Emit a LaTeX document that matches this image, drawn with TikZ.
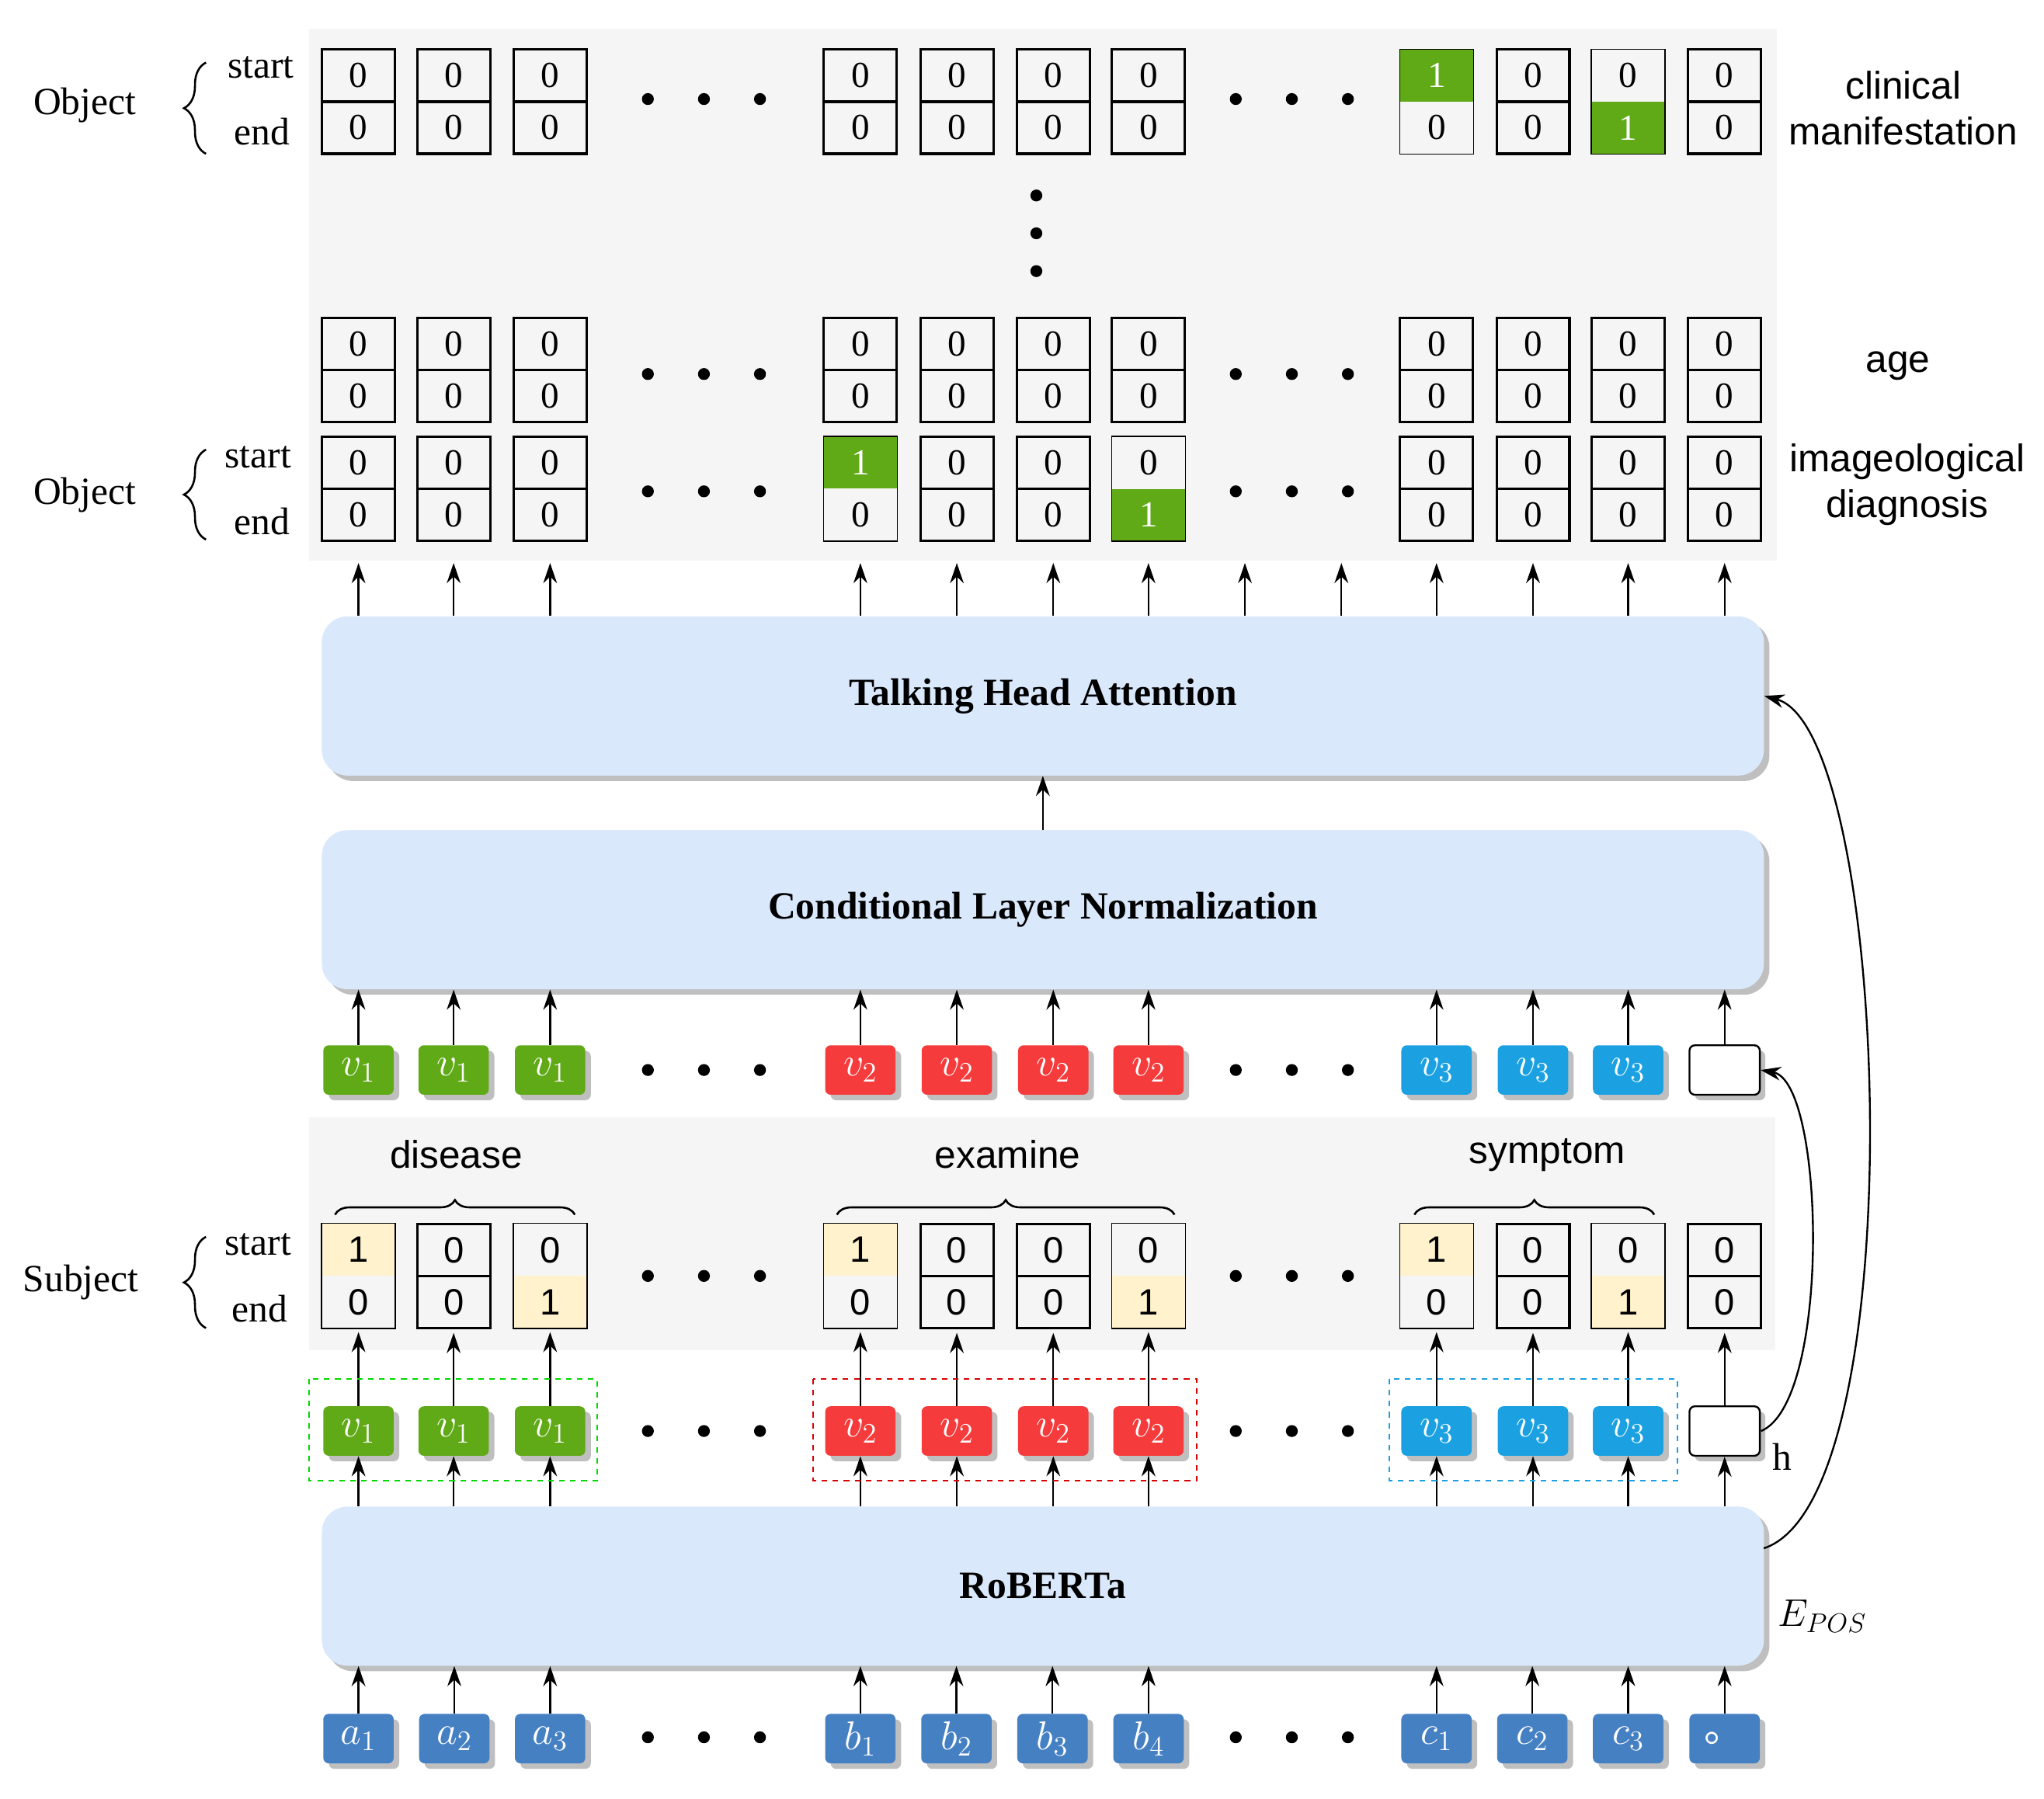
\RequirePackage{fix-cm}
\documentclass[tikz,border=0pt]{standalone}
\usepackage{fontspec}
\setmainfont{Liberation Serif}
\newfontfamily\sansf{Liberation Sans}
\newfontfamily\cjk{Noto Sans CJK SC}
\usetikzlibrary{arrows.meta,shadows,decorations.pathreplacing}

\definecolor{bgray}{HTML}{F5F5F5}
\definecolor{boxblue}{HTML}{DAE8FC}
\definecolor{hiyel}{HTML}{FFF2CC}
\definecolor{tgreen}{HTML}{60A917}
\definecolor{tred}{HTML}{F53B3B}
\definecolor{tblue}{HTML}{1BA1E2}
\definecolor{tin}{HTML}{4580C2}

\tikzset{
  arr/.style={-{Stealth[length=11pt,width=7.5pt]}, line width=1pt},
  half/.style={minimum width=39.8pt, minimum height=28.4pt, inner sep=0pt, font=\fontsize{20}{22}\selectfont},
  shalf/.style={half, font=\fontsize{20}{22}\sansf},
  zero/.style={draw, line width=1.3pt},
  token/.style={minimum width=38.4pt, minimum height=27pt, inner sep=0pt, rounded corners=3pt,
    text=white, font=\fontsize{22}{24}\selectfont,
    drop shadow={shadow xshift=3pt, shadow yshift=-3pt, fill=black!25, opacity=1}},
  layer/.style={fill=boxblue, minimum width=786.7pt, minimum height=86.8pt, rounded corners=14pt,
    font=\fontsize{21}{24}\selectfont\bfseries,
    drop shadow={shadow xshift=3pt, shadow yshift=-3pt, fill=black!25, opacity=1}},
  lbl/.style={font=\fontsize{21}{24}\selectfont, inner sep=0pt},
  slbl/.style={font=\fontsize{21}{25}\sansf, inner sep=0pt, align=center},
  dot/.style={fill=black, circle, inner sep=0pt, minimum size=6.5pt},
  brc/.style={decorate, decoration={brace, amplitude=#1}, line width=1.1pt},
}

% plain cell: name, x, y(center), top, bottom
\newcommand\zcell[6][half]{%
  \node[#1,zero] (#2s) at (#3,#4-20) {#5};
  \node[#1,zero] (#2e) at (#3,#4+20) {#6};}
% highlighted cell: name, x, y, top, bottom, top style, bottom style
\newcommand\hcell[8][half]{%
  \node[#1,#7] (#2s) at (#3,#4-20) {#5};
  \node[#1,#8] (#2e) at (#3,#4+20) {#6};
  \draw[line width=0.6pt] (#2s.north west) rectangle (#2e.south east);}

\begin{document}
\begin{tikzpicture}[x=0.025cm, y=-0.025cm]
  \useasboundingbox (0,0) rectangle (1568,1380);

  % backgrounds
  \fill[bgray] (237,22) rectangle (1363,430);
  \fill[bgray] (237,857) rectangle (1362,1036);

  % ---- object rows ----
  \foreach \x [count=\i] in {275,348,422,660,734,808,881,1176,1323}
    \zcell{oa\i}{\x}{78}{0}{0};
  \hcell{oa10}{1102}{78}{\color{white}1}{0}{fill=tgreen}{fill=bgray}
  \hcell{oa11}{1249}{78}{0}{\color{white}1}{fill=bgray}{fill=tgreen}
  \foreach \x [count=\i] in {275,348,422,660,734,808,881,1102,1176,1249,1323}
    \zcell{ob\i}{\x}{284}{0}{0};
  \foreach \x [count=\i] in {275,348,422,734,808,1102,1176,1249,1323}
    \zcell{oc\i}{\x}{375}{0}{0};
  \hcell{oc10}{660}{375}{\color{white}1}{0}{fill=tgreen}{fill=bgray}
  \hcell{oc11}{881}{375}{0}{\color{white}1}{fill=bgray}{fill=tgreen}

  \foreach \y in {150,179,208}
    \node[dot] at (795,\y) {};

  \node[lbl] (obj1) at (65,81) {Object};
  \draw[brc=12pt] (158,118) -- (158,48);
  \node[lbl] (st1) at (200,52) {start};
  \node[lbl] (en1) at (201,101) {end};
  \node[lbl] (obj2) at (65,380) {Object};
  \draw[brc=12pt] (158,414) -- (158,345);
  \node[lbl] (st2) at (198,351) {start};
  \node[lbl] (en2) at (201,400) {end};

  \node[slbl] (clin) at (1460,83) {clinical\\manifestation};
  \node[slbl] (age) at (1456,281) {age};
  \node[slbl] (imag) at (1463,372) {imageological\\diagnosis};

  % ---- layers ----
  \node[layer] (tha) at (800,534) {Talking Head Attention};
  \node[layer] (cln) at (800,698) {Conditional Layer Normalization};
  \node[layer] (rob) at (800,1217) {RoBERTa};
  \draw[arr] (cln.north) -- (tha.south);

  \foreach \x in {275,348,422,660,734,808,881,955,1029,1102,1176,1249,1323}
    \draw[arr] (tha.north -| \x,0) -- (\x,432);

  % ---- upper tokens ----
  \foreach \x [count=\i] in {275,348,422}
    \node[token, fill=tgreen] (u\i) at (\x,821) {$v_1$};
  \foreach \x [count=\i from 4] in {660,734,808,881}
    \node[token, fill=tred] (u\i) at (\x,821) {$v_2$};
  \foreach \x [count=\i from 8] in {1102,1176,1249}
    \node[token, fill=tblue] (u\i) at (\x,821) {$v_3$};
  \node[token, fill=white, draw, line width=1pt] (u11) at (1323,821) {};
  \foreach \i in {1,...,11}
    \draw[arr] (u\i.north) -- (cln.south -| u\i);

  % ---- subject row ----
  \node[slbl] (dis) at (350,886) {disease};
  \node[slbl] (exa) at (773,886) {examine};
  \node[slbl] (sym) at (1187,886) {symptom};
  \draw[brc=8pt] (257,932) -- (441,932);
  \draw[brc=8pt] (642,932) -- (901,932);
  \draw[brc=8pt] (1085,932) -- (1269,932);

  \hcell[shalf]{s1}{275}{979}{1}{0}{fill=hiyel}{fill=bgray}
  \zcell[shalf]{s2}{348}{979}{0}{0}
  \hcell[shalf]{s3}{422}{979}{0}{1}{fill=bgray}{fill=hiyel}
  \hcell[shalf]{s4}{660}{979}{1}{0}{fill=hiyel}{fill=bgray}
  \zcell[shalf]{s5}{734}{979}{0}{0}
  \zcell[shalf]{s6}{808}{979}{0}{0}
  \hcell[shalf]{s7}{881}{979}{0}{1}{fill=bgray}{fill=hiyel}
  \hcell[shalf]{s8}{1102}{979}{1}{0}{fill=hiyel}{fill=bgray}
  \zcell[shalf]{s9}{1176}{979}{0}{0}
  \hcell[shalf]{s10}{1249}{979}{0}{1}{fill=bgray}{fill=hiyel}
  \zcell[shalf]{s11}{1323}{979}{0}{0}

  \node[lbl] (subj) at (62,984) {Subject};
  \draw[brc=12pt] (158,1019) -- (158,949);
  \node[lbl] (st3) at (198,955) {start};
  \node[lbl] (en3) at (199,1004) {end};

  % ---- lower tokens ----
  \foreach \x [count=\i] in {275,348,422}
    \node[token, fill=tgreen] (l\i) at (\x,1098) {$v_1$};
  \foreach \x [count=\i from 4] in {660,734,808,881}
    \node[token, fill=tred] (l\i) at (\x,1098) {$v_2$};
  \foreach \x [count=\i from 8] in {1102,1176,1249}
    \node[token, fill=tblue] (l\i) at (\x,1098) {$v_3$};
  \node[token, fill=white, draw, line width=1pt] (l11) at (1323,1098) {};
  \foreach \i in {1,...,11} {
    \draw[arr] (l\i.north) -- ([yshift=-2pt]s\i e.south);
    \draw[arr] (rob.north -| l\i) -- (l\i.south);
  }
  \draw[dashed, draw=green!85!black, line width=0.8pt] (237,1058) rectangle (458,1136);
  \draw[dashed, draw=red!85!black, line width=0.8pt] (624,1058) rectangle (918,1136);
  \draw[dashed, draw=tblue, line width=0.8pt] (1066,1058) rectangle (1287,1136);
  \node[lbl] (hlab) at (1367,1118) {h};

  % ---- inputs ----
  \foreach \t [count=\i] in {a_1,a_2,a_3}
    \node[token, fill=tin] (in\i) at ({275+(\i-1)*73.5},1334) {$\t$};
  \foreach \t [count=\i from 4] in {b_1,b_2,b_3,b_4}
    \node[token, fill=tin] (in\i) at ({660+(\i-4)*73.7},1334) {$\t$};
  \foreach \t [count=\i from 8] in {c_1,c_2,c_3}
    \node[token, fill=tin] (in\i) at ({1102+(\i-8)*73.5},1334) {$\t$};
  \node[token, fill=tin, font=\fontsize{22}{24}\cjk] (in11) at (1323,1334) {。};
  \foreach \i in {1,...,11}
    \draw[arr] (in\i.north) -- (rob.south -| in\i);

  % ---- dots ----
  \foreach \y in {76,287,377,821,979,1098,1333}
    \foreach \x in {497,540,583,948,991,1034}
      \node[dot] at (\x,\y) {};

  % ---- side links ----
  \coordinate (rs) at (1353,1188);
  \draw[arr] (rs) .. controls (1470,1150) and (1450,560) .. (tha.east);
  \coordinate (hs) at (1351,1098);
  \draw[arr] (hs) .. controls (1405,1075) and (1400,830) .. (u11.east);
  \node[lbl] (epos) at (1398,1240) {$E_{POS}$};
\end{tikzpicture}
\end{document}
